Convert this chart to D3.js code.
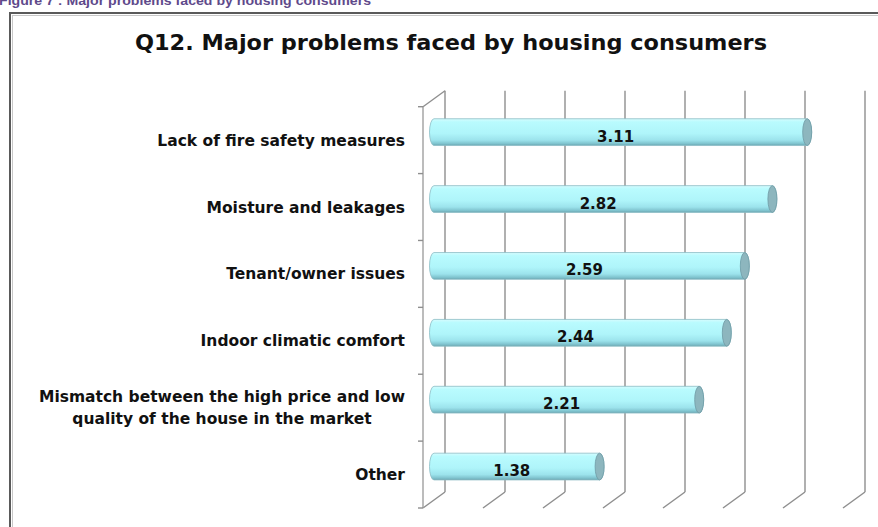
<!DOCTYPE html>
<html>
<head>
<meta charset="utf-8">
<script src="https://cdn.jsdelivr.net/npm/d3@7"></script>
<style>
  html, body { margin: 0; padding: 0; background: #ffffff; }
  svg { display: block; }
</style>
</head>
<body>
<script>
// ---- data ----
const captionText = "Figure 7 : Major problems faced by housing consumers";
const titleText = "Q12. Major problems faced by housing consumers";
const categories = [
  "Lack of fire safety measures",
  "Moisture and leakages",
  "Tenant/owner issues",
  "Indoor climatic comfort",
  "Mismatch between the high price and low\nquality of the house in the market",
  "Other"
];
const values = [3.11, 2.82, 2.59, 2.44, 2.21, 1.38];
const tickValues = [0, 0.5, 1, 1.5, 2, 2.5, 3, 3.5];

// ---- layout ----
const W = 878, H = 527;
const depthX = 22, depthY = 16;          // 3-D depth offset (front -> back)
const frontLeft = 423;                   // x of value 0 on front plane
const plotTopFront = 106.7, plotBottomFront = 508;

const svg = d3.select("body").append("svg").attr("width", W).attr("height", H);

const defs = svg.append("defs");
const grad = defs.append("linearGradient").attr("id", "cyl")
  .attr("x1", 0).attr("y1", 0).attr("x2", 0).attr("y2", 1);
[[0, "#d6fcfe"], [0.12, "#b9fbfe"], [0.55, "#aff5fa"], [0.8, "#9ce3ec"], [0.93, "#7fc3ce"], [1, "#6aa6b1"]]
  .forEach(([o, c]) => grad.append("stop").attr("offset", o).attr("stop-color", c));

// caption (partly cut off at top, as in the source)
svg.append("text").attr("x", -1).attr("y", 5)
  .attr("font-family", "Liberation Sans, Arial, sans-serif").attr("font-weight", "bold")
  .attr("font-size", 13.5).attr("fill", "#5f4a8b")
  .attr("textLength", 372).attr("lengthAdjust", "spacingAndGlyphs")
  .text(captionText);

// frame
svg.append("rect").attr("x", 10).attr("y", 13).attr("width", 900).attr("height", 600)
  .attr("fill", "none").attr("stroke", "#5a5a5a").attr("stroke-width", 2);
svg.append("rect").attr("x", 12.5).attr("y", 15.5).attr("width", 900).attr("height", 600)
  .attr("fill", "none").attr("stroke", "#c8c8c8").attr("stroke-width", 1);

// title
svg.append("text").attr("x", 451).attr("y", 50).attr("text-anchor", "middle")
  .attr("font-family", "DejaVu Sans, sans-serif").attr("font-weight", "bold")
  .attr("font-size", 20.5).attr("fill", "#111")
  .attr("textLength", 632).attr("lengthAdjust", "spacingAndGlyphs")
  .text(titleText);

// scales
const x = d3.scaleLinear().domain([0, 3.5]).range([0, 420]);
const y = d3.scaleBand().domain(categories).range([plotTopFront, plotBottomFront]).paddingInner(0).paddingOuter(0);

const gridColor = "#8f8f8f";
const g = svg.append("g");

// back wall gridlines + floor diagonals
tickValues.forEach(t => {
  const bx = frontLeft + depthX + x(t);
  g.append("line").attr("x1", bx).attr("x2", bx)
    .attr("y1", plotTopFront - depthY).attr("y2", plotBottomFront - depthY)
    .attr("stroke", gridColor).attr("stroke-width", 1.4);
  g.append("line").attr("x1", bx).attr("y1", plotBottomFront - depthY)
    .attr("x2", bx - depthX).attr("y2", plotBottomFront)
    .attr("stroke", gridColor).attr("stroke-width", 1.4);
});

// left side wall: front vertical + top diagonal
g.append("line").attr("x1", frontLeft).attr("x2", frontLeft)
  .attr("y1", plotTopFront).attr("y2", plotBottomFront)
  .attr("stroke", "#a0a0a0").attr("stroke-width", 1.4);
g.append("line").attr("x1", frontLeft).attr("y1", plotTopFront)
  .attr("x2", frontLeft + depthX).attr("y2", plotTopFront - depthY)
  .attr("stroke", gridColor).attr("stroke-width", 1.4);

// category tick marks
const bounds = categories.map(c => y(c)).concat([plotBottomFront]);
bounds.forEach(b => {
  g.append("line").attr("x1", frontLeft - 5).attr("x2", frontLeft)
    .attr("y1", b).attr("y2", b).attr("stroke", gridColor).attr("stroke-width", 1.4);
});

// category labels (multi-line labels centred within a right-aligned block)
const labelG = svg.append("g").attr("font-family", "DejaVu Sans, sans-serif")
  .attr("font-weight", "bold").attr("font-size", 15.5).attr("fill", "#111");
const labelRight = 405;
categories.forEach(c => {
  const lines = c.split("\n");
  const cy = y(c) + y.bandwidth() / 2;
  const lh = 22;
  const texts = lines.map((ln, i) => labelG.append("text")
      .attr("y", cy + (i - (lines.length - 1) / 2) * lh + 5.5)
      .text(ln));
  if (lines.length === 1) {
    texts[0].attr("x", labelRight).attr("text-anchor", "end");
  } else {
    const maxW = d3.max(texts, t => t.node().getComputedTextLength());
    texts.forEach(t => t.attr("x", labelRight - maxW / 2).attr("text-anchor", "middle"));
  }
});

// bars (cylinders at mid-depth)
const midX0 = frontLeft + depthX / 2;
const r = y.bandwidth() * 0.2;   // half bar thickness
const rx = 4.5;
const bars = svg.append("g");
categories.forEach((c, i) => {
  const v = values[i];
  const cy = y(c) + y.bandwidth() / 2 - depthY / 2;
  const x0 = midX0, x1 = midX0 + x(v);
  const path = `M${x0},${cy - r} L${x1},${cy - r} A${rx},${r} 0 0 1 ${x1},${cy + r} L${x0},${cy + r} A${rx},${r} 0 0 1 ${x0},${cy - r} Z`;
  bars.append("path").attr("d", path).attr("fill", "url(#cyl)")
    .attr("stroke", "#8cbcc5").attr("stroke-width", 0.8);
  bars.append("ellipse").attr("cx", x1).attr("cy", cy).attr("rx", rx).attr("ry", r)
    .attr("fill", "#8db6be").attr("stroke", "#6f9aa4").attr("stroke-width", 0.8);
  bars.append("text").attr("x", (x0 + x1) / 2 - 5).attr("y", cy + 9.5)
    .attr("text-anchor", "middle")
    .attr("font-family", "DejaVu Sans, sans-serif").attr("font-weight", "bold")
    .attr("font-size", 15).attr("fill", "#111")
    .text(v.toFixed(2));
});
</script>
</body>
</html>
